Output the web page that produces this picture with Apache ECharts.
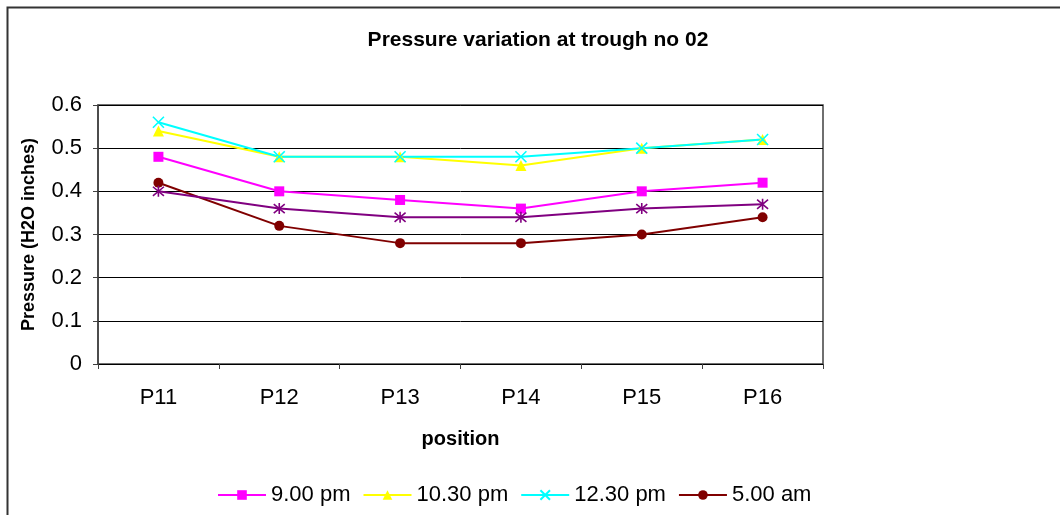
<!DOCTYPE html>
<html>
<head>
<meta charset="utf-8">
<script src="https://cdn.jsdelivr.net/npm/echarts@6/dist/echarts.min.js"></script>
<style>
html,body{margin:0;padding:0;background:#fff;}
#chart{width:1060px;height:515px;}
</style>
</head>
<body>
<div id="chart"></div>
<script>
const categories = ['P11', 'P12', 'P13', 'P14', 'P15', 'P16'];
const pm900 = [0.48, 0.40, 0.38, 0.36, 0.40, 0.42];
const pm1030 = [0.54, 0.48, 0.48, 0.46, 0.50, 0.52];
const pm1230 = [0.56, 0.48, 0.48, 0.48, 0.50, 0.52];
const am500 = [0.42, 0.32, 0.28, 0.28, 0.30, 0.34];
const unnamed = [0.40, 0.36, 0.34, 0.34, 0.36, 0.37];
const legendNames = ['9.00 pm', '10.30 pm', '12.30 pm', '5.00 am'];

const FONT = '"Liberation Sans", Arial, sans-serif';
const chart = echarts.init(document.getElementById('chart'), null, {renderer: 'canvas'});

function lineSeries(name, data, color, symbol, size, stroke) {
  return {
    name: name,
    type: 'line',
    data: data,
    symbol: symbol,
    symbolSize: size,
    showSymbol: true,
    lineStyle: {color: color, width: 2},
    itemStyle: stroke ? {color: color, borderColor: color, borderWidth: 1.6} : {color: color},
    emphasis: {disabled: true},
    animation: false
  };
}

const option = {
  animation: false,
  backgroundColor: '#fff',
  title: {
    text: 'Pressure variation at trough no 02',
    left: 533, top: 25, textAlign: 'center',
    textStyle: {fontFamily: FONT, fontSize: 21, fontWeight: 'bold', color: '#000'}
  },
  graphic: [{
    type: 'rect', shape: {x: 7.5, y: 7.5, width: 1070, height: 530},
    style: {fill: 'none', stroke: '#333', lineWidth: 2}, silent: true
  }],
  legend: {
    data: legendNames,
    left: 212, top: 479,
    itemWidth: 48, itemHeight: 12, itemGap: 12,
    textStyle: {fontFamily: FONT, fontSize: 22, color: '#000'}
  },
  grid: {
    left: 98, right: 237, top: 105, bottom: 151,
    show: true, borderColor: '#404040', borderWidth: 1.5, backgroundColor: '#fff'
  },
  xAxis: {
    type: 'category', data: categories, boundaryGap: true,
    name: 'position', nameLocation: 'middle', nameGap: 65,
    nameTextStyle: {fontFamily: FONT, fontSize: 20, fontWeight: 'bold', color: '#000'},
    axisLine: {lineStyle: {color: '#000', width: 1}},
    axisTick: {show: true, length: 5, inside: false, lineStyle: {color: '#404040'}},
    axisLabel: {fontFamily: FONT, fontSize: 22, color: '#000', margin: 23},
    splitLine: {show: false}
  },
  yAxis: {
    type: 'value', min: 0, max: 0.6, interval: 0.1,
    name: 'Pressure (H2O inches)', nameLocation: 'middle', nameGap: 60,
    nameTextStyle: {fontFamily: FONT, fontSize: 18, fontWeight: 'bold', color: '#000'},
    axisLine: {show: true, lineStyle: {color: '#404040', width: 1.5}},
    axisTick: {show: true, length: 5, lineStyle: {color: '#404040'}},
    axisLabel: {fontFamily: FONT, fontSize: 22, color: '#000', margin: 16,
      formatter: v => (Math.round(v * 10) / 10).toString()},
    splitLine: {show: true, lineStyle: {color: '#000', width: 1}}
  },
  series: [
    lineSeries('9.00 pm', pm900, '#FF00FF', 'rect', 10, false),
    lineSeries('10.30 pm', pm1030, '#FFFF00', 'triangle', 11, false),
    lineSeries('12.30 pm', pm1230, '#00FFFF', 'path://M0,0L10,10M10,0L0,10', 11, true),
    lineSeries('5.00 am', am500, '#800000', 'circle', 10, false),
    lineSeries('', unnamed, '#800080', 'path://M0,0L10,10M10,0L0,10M5,-1L5,11', 11, true)
  ]
};
chart.setOption(option);
</script>
</body>
</html>
